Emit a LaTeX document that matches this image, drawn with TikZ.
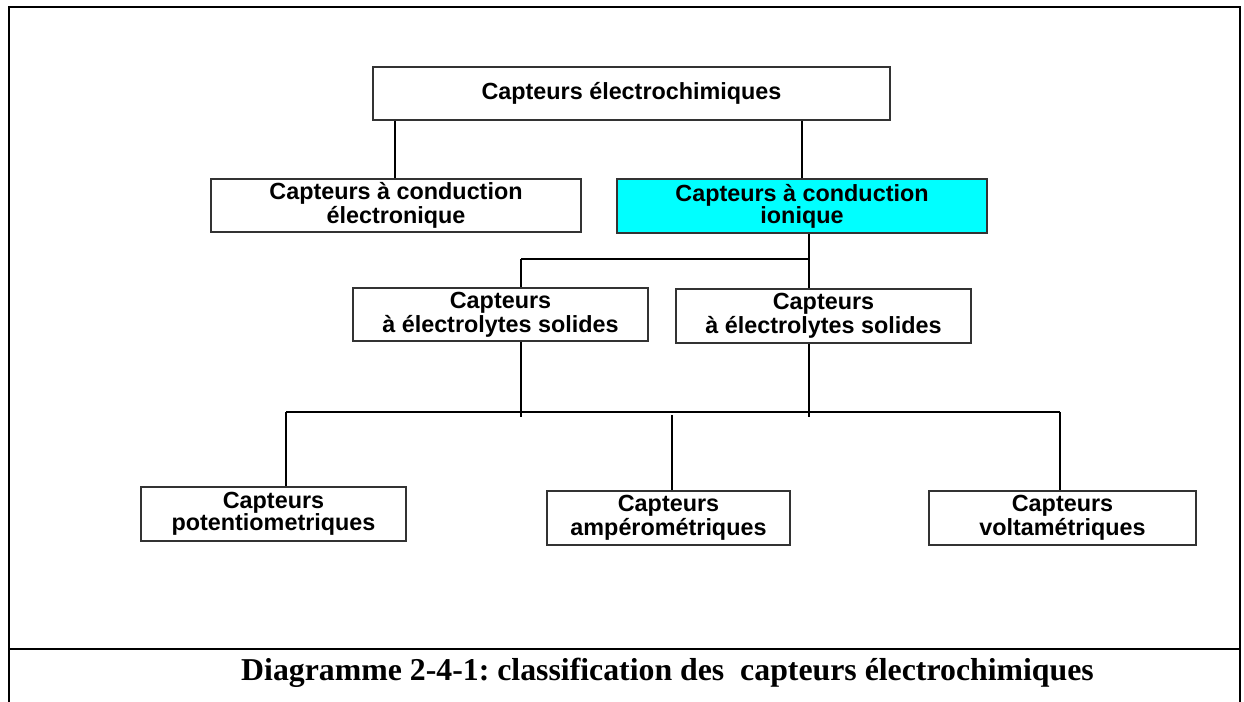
\documentclass[tikz,border=0pt]{standalone}
\usepackage{fontspec}
\setmainfont{Liberation Serif}
\setsansfont{Liberation Sans}
\usetikzlibrary{calc}
\definecolor{ioncyan}{RGB}{0,255,255}
\def\pxu{0.02cm}

\tikzset{
  capbox/.style={draw=black!80, line width=0.6pt, fill=white, align=center, inner sep=0pt,
    minimum height=53*\pxu, font=\sffamily\bfseries\fontsize{13.3}{12.5}\selectfont},
  link/.style={line width=0.7pt}
}

\begin{document}
\frenchspacing
\begin{tikzpicture}[x=\pxu, y=-\pxu]
  \useasboundingbox (0,0) rectangle (1244,702);
  \coordinate (f1) at (9,702);
  \coordinate (f2) at (9,7);
  \coordinate (f3) at (1240,7);
  \coordinate (f4) at (1240,702);
  \coordinate (s1) at (9,649);
  \coordinate (s2) at (1240,649);

  \draw[line width=1.2pt] (f1) -- (f2) -- (f3) -- (f4);
  \draw[line width=1.2pt] (s1) -- (s2);

  \coordinate (j1) at (809,259);
  \coordinate (j2) at (521,259);
  \coordinate (j3) at (286,412);
  \coordinate (j4) at (1060,412);
  \coordinate (e1) at (521,417);
  \coordinate (e2) at (809,417);
  \coordinate (e3) at (672,415);

  \draw[link] (j2) -- (j1);
  \draw[link] (j3) -- (j4);

  \node[capbox, minimum width=517*\pxu] (top) at (631.5,93.5) {Capteurs électrochimiques};
  \node[capbox, minimum width=370*\pxu] (elec) at (396,205.5) {Capteurs à conduction\\électronique};
  \node[capbox, minimum width=370*\pxu, minimum height=54*\pxu, fill=ioncyan] (ion) at (802,206) {Capteurs à conduction\\ionique};
  \node[capbox, minimum width=295*\pxu] (sol1) at (500.5,314.5) {Capteurs\\à électrolytes solides};
  \node[capbox, minimum width=295*\pxu, minimum height=54*\pxu] (sol2) at (823.5,316) {Capteurs\\à électrolytes solides};
  \node[capbox, minimum width=265*\pxu, minimum height=54*\pxu] (pot) at (273.5,514) {Capteurs\\potentiometriques};
  \node[capbox, minimum width=243*\pxu, minimum height=54*\pxu] (amp) at (668.5,518) {Capteurs\\ampérométriques};
  \node[capbox, minimum width=267*\pxu, minimum height=54*\pxu] (volt) at (1062.5,518) {Capteurs\\voltamétriques};

  \draw[link] (top.south -| 395,0) -- (elec.north -| 395,0);
  \draw[link] (top.south -| ion.north) -- (ion.north);
  \draw[link] (ion.south -| j1) -- (sol2.north -| j1);
  \draw[link] (j2) -- (sol1.north -| j2);
  \draw[link] (sol1.south -| e1) -- (e1);
  \draw[link] (sol2.south -| e2) -- (e2);
  \draw[link] (j3) -- (pot.north -| j3);
  \draw[link] (e3) -- (amp.north -| e3);
  \draw[link] (j4) -- (volt.north -| j4);

  \node[anchor=base, font=\rmfamily\bfseries\fontsize{18.1}{20}\selectfont] (cap) at (667.5,680)
    {Diagramme 2-4-1: classification des\ \ capteurs électrochimiques};
\end{tikzpicture}
\end{document}
